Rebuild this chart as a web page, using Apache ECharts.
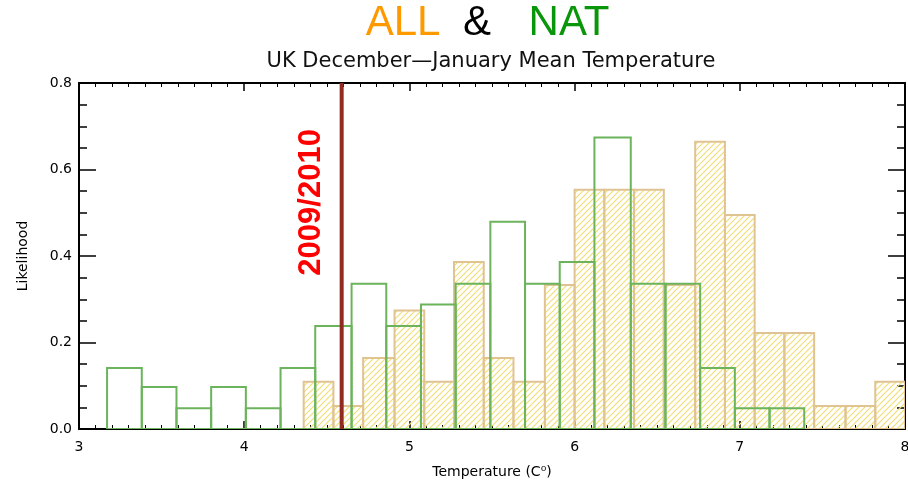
<!DOCTYPE html>
<html>
<head>
<meta charset="utf-8">
<script src="https://cdn.jsdelivr.net/npm/echarts@6/dist/echarts.min.js"></script>
<style>
  html, body { margin: 0; padding: 0; background: #fff; }
  #main { width: 908px; height: 487px; }
</style>
</head>
<body>
<div id="main"></div>
<script>
// ALL: bin edges (21) and likelihood per bin (20)
var allEdges = [4.36, 4.54, 4.72, 4.91, 5.09, 5.27, 5.45, 5.63, 5.82, 6.00, 6.18,
                6.36, 6.54, 6.73, 6.91, 7.09, 7.27, 7.45, 7.64, 7.82, 8.00];
var allValues = [0.109, 0.053, 0.164, 0.274, 0.109, 0.386, 0.164, 0.109, 0.333, 0.553,
                 0.553, 0.553, 0.333, 0.664, 0.495, 0.222, 0.222, 0.053, 0.053, 0.109];

// NAT: bin edges (21) and likelihood per bin (20)
var natEdges = [3.17, 3.38, 3.59, 3.80, 4.01, 4.22, 4.43, 4.65, 4.86, 5.07, 5.28,
                5.49, 5.70, 5.91, 6.12, 6.34, 6.55, 6.76, 6.97, 7.18, 7.39];
var natValues = [0.141, 0.097, 0.048, 0.097, 0.048, 0.141, 0.238, 0.336, 0.238, 0.288,
                 0.336, 0.479, 0.336, 0.386, 0.674, 0.336, 0.336, 0.141, 0.048, 0.048];

// 2009/2010 observed value
var eventTemp = 4.59;
var eventLabel = '2009/2010';
var eventLabelPos = [4.405, 0.524];

function toBins(edges, values) {
  var out = [];
  for (var i = 0; i < values.length; i++) {
    out.push([edges[i], edges[i + 1], values[i]]);
  }
  return out;
}

// hatch pattern for the ALL bars
var hatch = document.createElement('canvas');
hatch.width = 6;
hatch.height = 6;
var hc = hatch.getContext('2d');
hc.strokeStyle = 'rgb(240,222,120)';
hc.lineWidth = 1.2;
hc.beginPath();
hc.moveTo(0, 6); hc.lineTo(6, 0);
hc.moveTo(-1, 1); hc.lineTo(1, -1);
hc.moveTo(5, 7); hc.lineTo(7, 5);
hc.stroke();

function histItem(style) {
  return function (params, api) {
    var p0 = api.coord([api.value(0), api.value(2)]);
    var p1 = api.coord([api.value(1), 0]);
    return {
      type: 'rect',
      shape: { x: p0[0], y: p0[1], width: p1[0] - p0[0], height: p1[1] - p0[1] },
      style: style
    };
  };
}

var font = 'DejaVu Sans';
var tickStyle = { color: '#000', width: 1.5 };

function xAx(pos) {
  return {
    type: 'value', position: pos, min: 3, max: 8, interval: 1,
    axisLine: { show: true, onZero: false, lineStyle: { color: '#000', width: 2 } },
    axisTick: { show: true, inside: true, length: 8, lineStyle: tickStyle },
    minorTick: { show: true, splitNumber: 10, length: 4, lineStyle: { color: '#000', width: 1 } },
    splitLine: { show: false },
    axisLabel: { show: pos === 'bottom', color: '#000', fontSize: 14, margin: 11, fontFamily: font },
    name: pos === 'bottom' ? 'Temperature (C\u2070)' : '',
    nameLocation: 'middle', nameGap: 36,
    nameTextStyle: { color: '#000', fontSize: 14, fontFamily: font }
  };
}

function yAx(pos) {
  return {
    type: 'value', position: pos, min: 0, max: 0.8, interval: 0.2,
    axisLine: { show: true, onZero: false, lineStyle: { color: '#000', width: 2 } },
    axisTick: { show: true, inside: true, length: 17, lineStyle: tickStyle },
    minorTick: { show: true, splitNumber: 4, length: 8, lineStyle: { color: '#000', width: 1.5 } },
    splitLine: { show: false },
    axisLabel: {
      show: pos === 'left', color: '#000', fontSize: 14, margin: 7, fontFamily: font,
      formatter: function (v) { return v.toFixed(1); }
    },
    name: pos === 'left' ? 'Likelihood' : '',
    nameLocation: 'middle', nameGap: 49,
    nameTextStyle: { color: '#000', fontSize: 14, fontFamily: font }
  };
}

function titleWord(text, x, color) {
  return {
    type: 'text', x: x, y: 23,
    style: {
      text: text, align: 'center', verticalAlign: 'middle',
      fill: color, fontSize: 42, fontFamily: 'Liberation Sans'
    }
  };
}

var chart = echarts.init(document.getElementById('main'));
chart.setOption({
  animation: false,
  backgroundColor: '#fff',
  graphic: [
    titleWord('ALL', 403, '#ff9900'),
    titleWord('&', 477, '#000'),
    titleWord('NAT', 569, '#0a960a'),
    {
      type: 'text', x: 491, y: 62,
      style: {
        text: 'UK December\u2014January Mean Temperature',
        align: 'center', verticalAlign: 'middle',
        fill: '#111', fontSize: 21, fontFamily: font
      }
    }
  ],
  grid: { left: 79, right: 3, top: 83, bottom: 58, outerBoundsMode: 'none' },
  xAxis: [xAx('bottom'), xAx('top')],
  yAxis: [yAx('left'), yAx('right')],
  series: [
    {
      name: 'ALL', type: 'custom', clip: true,
      renderItem: histItem({ fill: { image: hatch, repeat: 'repeat' }, stroke: '#dfc393', lineWidth: 2 }),
      encode: { x: [0, 1], y: 2 },
      data: toBins(allEdges, allValues)
    },
    {
      name: 'NAT', type: 'custom', clip: true,
      renderItem: histItem({ fill: 'none', stroke: '#6bb45b', lineWidth: 2 }),
      encode: { x: [0, 1], y: 2 },
      data: toBins(natEdges, natValues)
    },
    {
      name: 'event', type: 'line', showSymbol: false, silent: true,
      lineStyle: { color: '#912a20', width: 4 },
      data: [[eventTemp, 0], [eventTemp, 0.8]]
    },
    {
      name: 'label', type: 'custom', silent: true,
      renderItem: function (params, api) {
        var p = api.coord([api.value(0), api.value(1)]);
        return {
          type: 'text', x: p[0], y: p[1], rotation: Math.PI / 2,
          style: {
            text: eventLabel, align: 'center', verticalAlign: 'middle',
            fill: '#ff0000', fontSize: 31, fontWeight: 'bold', fontFamily: 'Liberation Sans'
          }
        };
      },
      data: [eventLabelPos]
    }
  ]
});
</script>
</body>
</html>
